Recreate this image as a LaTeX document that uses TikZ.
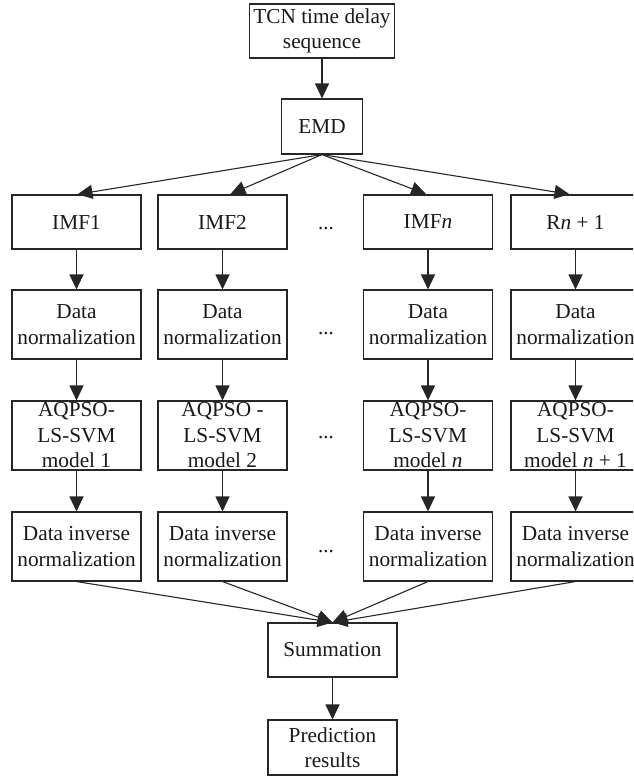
\documentclass[tikz,border=0pt]{standalone}
\usepackage{fontspec}
\setmainfont{Liberation Serif}
\usetikzlibrary{arrows.meta}
\begin{document}
\begin{tikzpicture}[x=1pt,y=-1pt,
  box/.style={draw=black!85,line width=1.1pt,inner sep=0pt,minimum width=129pt,
    minimum height=69pt,align=center,text=black!90,font=\fontsize{21.3}{25.5}\selectfont},
  short/.style={box,minimum height=54pt},
  flow/.style={draw=black!85,line width=1.1pt,-{Triangle[length=15pt,width=14pt]}},
  gap/.style={font=\fontsize{21}{25.5}\selectfont,text=black!90,inner sep=0pt,anchor=base}]
\useasboundingbox (0,0) rectangle (633,776);
\clip (0,0) rectangle (633,776);

% input and decomposition
\node[short,minimum width=145pt] (tcn) at (322,31) {TCN time delay\\sequence};
\node[short,minimum width=81pt,minimum height=55pt] (emd) at (322,126.5) {EMD};

% components
\node[short] (i1) at (76.5,222) {IMF1};
\node[short] (i2) at (222.5,222) {IMF2};
\node[short] (i3) at (428,222) {IMF\textit{n}};
\node[short] (i4) at (575.5,222) {R\textit{n} + 1};

% normalization
\node[box] (d1) at (76.5,324.5) {Data\\normalization};
\node[box] (d2) at (222.5,324.5) {Data\\normalization};
\node[box] (d3) at (428,324.5) {Data\\normalization};
\node[box] (d4) at (575.5,324.5) {Data\\normalization};

% models
\node[box] (m1) at (76.5,435.5) {AQPSO-\\LS-SVM\\model 1};
\node[box] (m2) at (222.5,435.5) {AQPSO -\\LS-SVM\\model 2};
\node[box] (m3) at (428,435.5) {AQPSO-\\LS-SVM\\model \textit{n}};
\node[box] (m4) at (575.5,435.5) {AQPSO-\\LS-SVM\\model \textit{n} + 1};

% inverse normalization
\node[box] (v1) at (76.5,546.5) {Data inverse\\normalization};
\node[box] (v2) at (222.5,546.5) {Data inverse\\normalization};
\node[box] (v3) at (428,546.5) {Data inverse\\normalization};
\node[box] (v4) at (575.5,546.5) {Data inverse\\normalization};

% output
\node[short] (sum) at (332.5,650) {Summation};
\node[short,minimum height=55pt] (pred) at (332.5,747.5) {Prediction\\results};

% ellipses between columns
\node[gap] (g1) at (326,229) {...};
\node[gap] (g2) at (326,334) {...};
\node[gap] (g3) at (326,438) {...};
\node[gap] (g4) at (326,552) {...};

% connectors
\draw[flow] (tcn) -- (emd);
\draw[flow,shorten >=1pt] (emd.south) -- (i1.north);
\draw[flow,shorten >=1pt] (emd.south) -- ([xshift=7pt]i2.north);
\draw[flow,shorten >=1pt] (emd.south) -- ([xshift=-1pt]i3.north);
\draw[flow,shorten >=1pt] (emd.south) -- ([xshift=-5pt]i4.north);
\foreach \c in {1,2,3,4}{
  \draw[flow] (i\c) -- (d\c);
  \draw[flow] (d\c) -- (m\c);
  \draw[flow] (m\c) -- (v\c);
  \draw[flow] (v\c.south) -- (sum.north);
}
\draw[flow] (sum) -- (pred);
\end{tikzpicture}
\end{document}
